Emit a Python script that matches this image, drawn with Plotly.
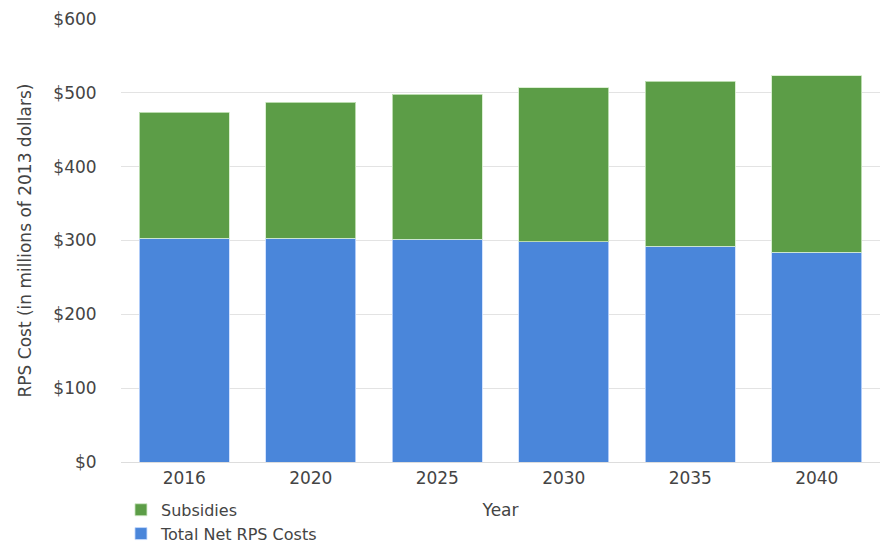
import plotly.graph_objects as go

years = ["2016", "2020", "2025", "2030", "2035", "2040"]
net_rps_costs = [303, 303, 302, 298, 292, 284]
subsidies = [171, 184, 196, 209, 224, 239]
y_ticks = [0, 100, 200, 300, 400, 500, 600]
y_tick_labels = ["$0", "$100", "$200", "$300", "$400", "$500", "$600"]

FONT = "DejaVu Sans"
TXT = "#444444"

fig = go.Figure()
fig.add_trace(go.Bar(
    x=years, y=net_rps_costs, name="Total Net RPS Costs",
    marker=dict(color="#4a86da", line=dict(color="rgba(200,220,255,0.8)", width=1)),
))
fig.add_trace(go.Bar(
    x=years, y=subsidies, name="Subsidies",
    marker=dict(color="#5c9d47", line=dict(color="rgba(210,235,200,0.8)", width=1)),
))

fig.update_layout(
    width=883, height=544,
    barmode="stack", bargap=0.285,
    paper_bgcolor="white", plot_bgcolor="white",
    margin=dict(l=121, r=3, t=19, b=82, autoexpand=False),
    font=dict(family=FONT, size=17, color=TXT),
    showlegend=True,
    legend=dict(
        xref="container", yref="container",
        x=0.137, y=0.094, xanchor="left", yanchor="top",
        traceorder="reversed", tracegroupgap=0,
        font=dict(family=FONT, size=16, color=TXT),
        bgcolor="rgba(0,0,0,0)", itemwidth=30,
    ),
    xaxis=dict(
        title=dict(text="Year", font=dict(size=17, color=TXT), standoff=16),
        showgrid=False, showline=True, linecolor="#dddddd", linewidth=1,
        ticks="outside", ticklen=1, tickcolor="rgba(0,0,0,0)",
        tickfont=dict(size=17, color=TXT),
    ),
    yaxis=dict(
        range=[0, 600], tickmode="array", tickvals=y_ticks, ticktext=y_tick_labels,
        showgrid=True, gridcolor="#e3e3e3", gridwidth=1,
        zeroline=False, showline=False,
        ticks="outside", ticklen=20, tickcolor="rgba(0,0,0,0)",
        tickfont=dict(size=17, color=TXT),
    ),
    annotations=[dict(
        text="RPS Cost (in millions of 2013 dollars)",
        xref="paper", yref="paper", x=-0.1265, y=0.5,
        xanchor="center", yanchor="middle", textangle=-90,
        showarrow=False, font=dict(family=FONT, size=17, color=TXT),
    )],
)

fig.write_html("out.html", config={"displayModeBar": False},
               post_script="document.body.style.margin='0';")
